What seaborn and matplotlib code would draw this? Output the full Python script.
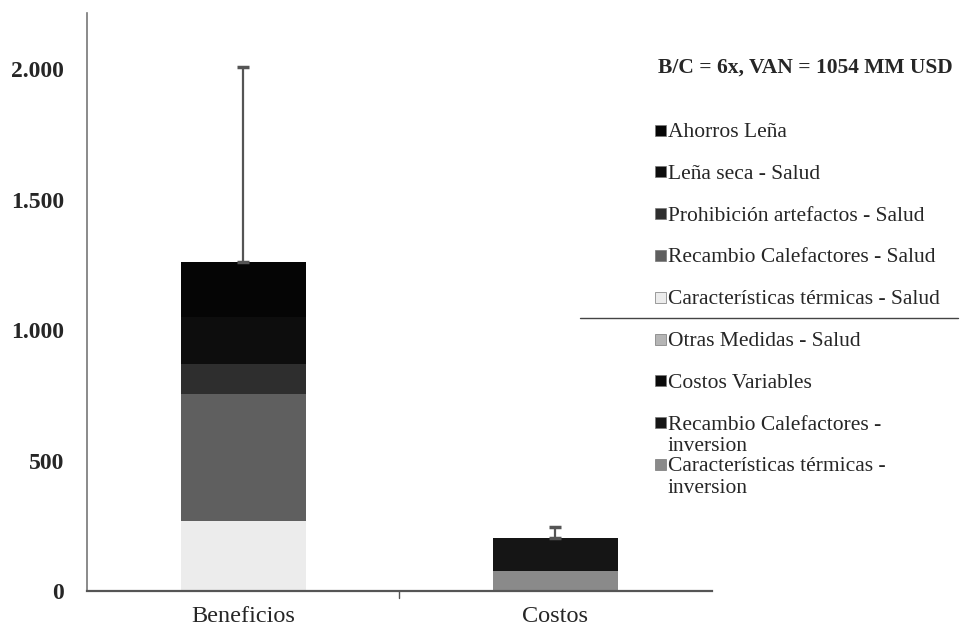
import matplotlib
matplotlib.use("Agg")
import matplotlib.pyplot as plt
from matplotlib.patches import Rectangle
from matplotlib.lines import Line2D
import seaborn as sns
import pandas as pd

categories = ["Beneficios", "Costos"]

# stack order bottom -> top (legend lists it top -> bottom)
series = [
    "Características térmicas -\ninversion",
    "Recambio Calefactores -\ninversion",
    "Costos Variables",
    "Otras Medidas - Salud",
    "Características térmicas - Salud",
    "Recambio Calefactores - Salud",
    "Prohibición artefactos - Salud",
    "Leña seca - Salud",
    "Ahorros Leña",
]
beneficios = [0, 0, 0, 0, 270, 485, 115, 180, 210]
costos = [77, 126, 0, 0, 0, 0, 0, 0, 0]
upper_bound = [2010, 245]

colors = ["#8a8a8a", "#151515", "#0a0a0a", "#b5b5b5", "#ececec",
          "#5f5f5f", "#2e2e2e", "#0d0d0d", "#050505"]

df = pd.DataFrame({"serie": series, "Beneficios": beneficios, "Costos": costos})
long = df.melt(id_vars="serie", var_name="cat", value_name="valor")

sns.set_style("white")
plt.rcParams["font.family"] = ["Liberation Serif", "DejaVu Serif"]

fig = plt.figure(figsize=(9.61, 6.31), dpi=100)
ax = fig.add_axes([0.0905, 0.0634, 0.65, 0.9156])

bottom = pd.Series(0.0, index=categories)
for s, c in zip(series, colors):
    sub = long[long["serie"] == s].set_index("cat").loc[categories]
    sns.barplot(x=categories, y=sub["valor"].values, bottom=bottom.values,
                color=c, width=0.4, ax=ax, edgecolor="none", linewidth=0)
    bottom = bottom + sub["valor"].values

# error bars (upper only)
totals = bottom.values
ax.errorbar(range(len(categories)), totals,
            yerr=[[0, 0], [u - t for u, t in zip(upper_bound, totals)]],
            fmt="none", ecolor="#555555", elinewidth=1.6, capsize=4, capthick=2.5)

ax.set_xlim(-0.5, 1.5)
ax.set_ylim(0, 2215)
ax.set_yticks([0, 500, 1000, 1500, 2000])
ax.set_yticklabels(["0", "500", "1.000", "1.500", "2.000"], fontsize=17, fontweight="bold")
ax.set_xticks([0, 1])
ax.set_xticklabels(categories, fontsize=17.5)
ax.tick_params(axis="x", length=0, pad=11)
ax.tick_params(axis="y", direction="out", length=6.5, width=1, color="#555555", pad=10)
for sp in ["top", "right"]:
    ax.spines[sp].set_visible(False)
ax.spines["left"].set_color("#777777")
ax.spines["bottom"].set_color("#555555")
ax.spines["left"].set_linewidth(1.2)
ax.spines["bottom"].set_linewidth(1.6)
ax.axvline(0.5, ymin=-0.012, ymax=0, color="#555555", lw=1, clip_on=False)

fig.text(658 / 961, 1 - 68 / 631, "B/C = 6x, VAN = 1054 MM USD", fontsize=15.5,
         fontweight="bold", va="center")

# legend drawn as rows (top -> bottom)
row_y = 130
for s, c in zip(series[::-1], colors[::-1]):
    y = 1 - row_y / 631
    fig.patches.append(Rectangle((655 / 961, y - 0.009), 0.0115, 0.0175,
                                 transform=fig.transFigure, facecolor=c,
                                 edgecolor="#777777", linewidth=0.5))
    fig.text(668 / 961, y + 0.011, s, fontsize=15.5, va="top", linespacing=1.15)
    row_y += 41.8

fig.add_artist(Line2D([580 / 961, 958 / 961], [1 - 318 / 631, 1 - 318 / 631],
                      transform=fig.transFigure, color="#444444", lw=1))

fig.savefig("out.png", dpi=100)
